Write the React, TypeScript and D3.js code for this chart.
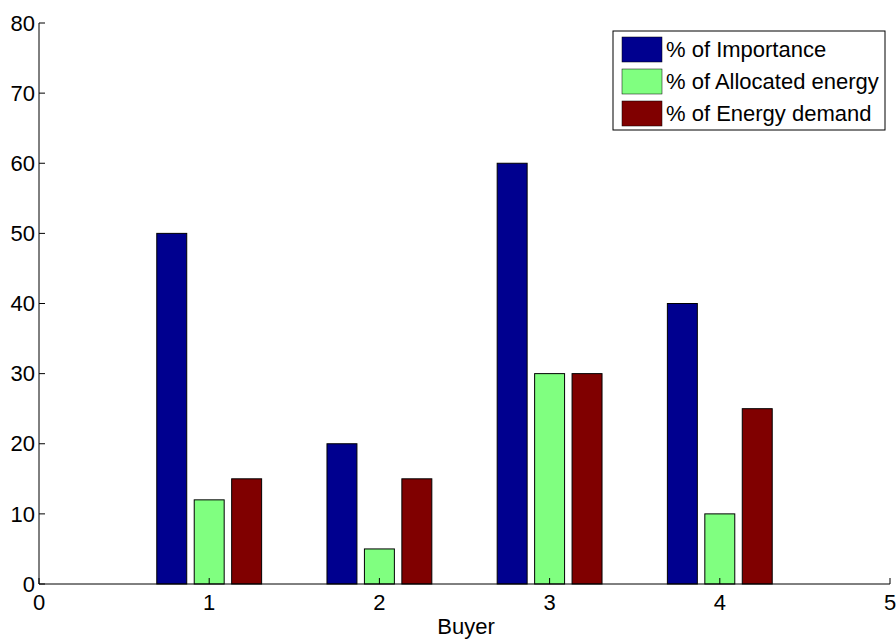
import React from "react";
import * as d3 from "d3";

const buyers = [1, 2, 3, 4];
const seriesNames = ["% of Importance", "% of Allocated energy", "% of Energy demand"];
const importance = [50, 20, 60, 40];
const allocated = [12, 5, 30, 10];
const demand = [15, 15, 30, 25];
const colors = ["#00008f", "#80ff80", "#800000"];
const xTicks = [0, 1, 2, 3, 4, 5];
const yTicks = [0, 10, 20, 30, 40, 50, 60, 70, 80];

export default function App() {
  const W = 896, H = 640;
  const left = 39, right = 890, top = 23, bottom = 584;
  const x = d3.scaleLinear().domain([0, 5]).range([left, right]);
  const y = d3.scaleLinear().domain([0, 80]).range([bottom, top]);
  const series = [importance, allocated, demand];
  const offsets = [-0.22, 0, 0.22];
  const bw = 0.176;
  const font = "Liberation Sans, Arial, sans-serif";
  const fs = 22;
  return (
    <svg width={W} height={H} style={{ position: "absolute", left: 0, top: 0, background: "#fff" }}>
      <rect width={W} height={H} fill="#fff" />
      {series.map((vals, si) =>
        vals.map((v, i) => (
          <rect
            key={`${si}-${i}`}
            x={x(buyers[i] + offsets[si] - bw / 2)}
            y={y(v)}
            width={x(bw) - x(0)}
            height={y(0) - y(v)}
            fill={colors[si]}
            stroke="#000"
            strokeWidth={1}
          />
        ))
      )}
      <line x1={left} x2={left} y1={top} y2={bottom} stroke="#000" />
      <line x1={left} x2={right} y1={bottom} y2={bottom} stroke="#000" />
      {yTicks.map((t) => (
        <g key={`y${t}`}>
          <line x1={left} x2={left + 6} y1={y(t)} y2={y(t)} stroke="#000" />
          <text x={left - 4} y={y(t)} dy="0.35em" textAnchor="end" fontFamily={font} fontSize={fs}>
            {t}
          </text>
        </g>
      ))}
      {xTicks.map((t) => (
        <g key={`x${t}`}>
          <line x1={x(t)} x2={x(t)} y1={bottom} y2={bottom - 6} stroke="#000" />
          <text x={x(t)} y={bottom + 26} textAnchor="middle" fontFamily={font} fontSize={fs}>
            {t}
          </text>
        </g>
      ))}
      <text x={466} y={634} textAnchor="middle" fontFamily={font} fontSize={fs}>
        Buyer
      </text>
      <g>
        <rect x={613} y={31} width={272} height={99} fill="#fff" stroke="#000" />
        {seriesNames.map((n, i) => (
          <g key={n}>
            <rect x={622} y={37 + i * 32} width={40} height={25} fill={colors[i]} stroke="#000" strokeWidth={0.5} />
            <text x={666} y={49.5 + i * 32} dy="0.35em" fontFamily={font} fontSize={fs}>
              {n}
            </text>
          </g>
        ))}
      </g>
    </svg>
  );
}
